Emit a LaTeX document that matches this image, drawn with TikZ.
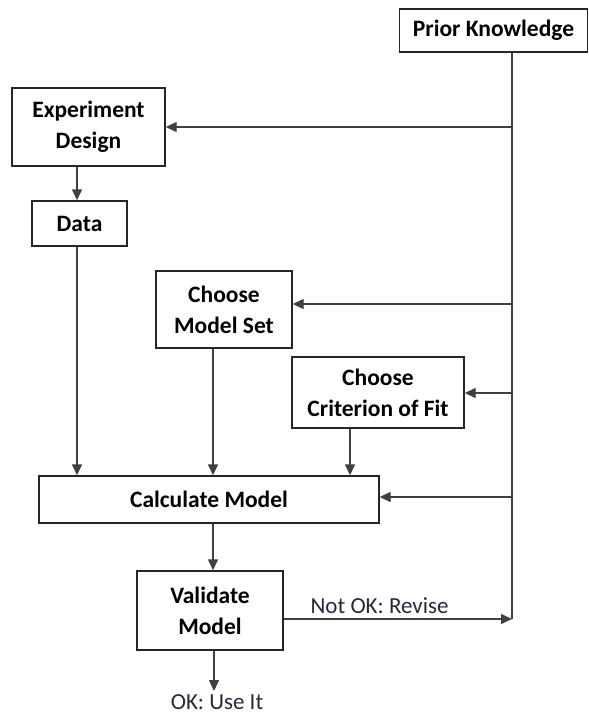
\documentclass[tikz,border=0pt]{standalone}
\usepackage{fontspec}
\setmainfont{Carlito}
\usetikzlibrary{arrows.meta}
\definecolor{lblc}{RGB}{40,40,60}
\begin{document}
\begin{tikzpicture}[x=1pt,y=-1pt,
  box/.style={draw=black!85,line width=1.4pt,inner sep=0pt,align=center,
    font=\fontsize{23.5}{31}\selectfont\bfseries},
  conn/.style={draw=black!75,line width=1.4pt},
  arr/.style={conn,-{Triangle[length=11pt,width=10pt]}},
  lbl/.style={font=\fontsize{23}{26}\selectfont,text=lblc}]
\useasboundingbox (0,0) rectangle (589,716);
\node[box,minimum width=188pt,minimum height=43pt] (pk) at (493.5,30.5) {Prior Knowledge};
\node[box,minimum width=153pt,minimum height=78pt] (ed) at (88.5,127) {Experiment\\Design};
\node[box,minimum width=95pt,minimum height=45pt] (data) at (79.5,223.5) {Data};
\node[box,minimum width=136pt,minimum height=77pt] (cms) at (224,309.5) {Choose\\Model Set};
\node[box,minimum width=172pt,minimum height=71pt] (ccf) at (378,392.5) {Choose\\Criterion of Fit};
\node[box,minimum width=340pt,minimum height=47pt] (calc) at (209,499.5) {Calculate Model};
\node[box,minimum width=146pt,minimum height=79pt] (val) at (210,610.5) {Validate\\Model};
% named coordinates
\coordinate (xd) at (77,0);
\coordinate (xm) at (213,0);
\coordinate (xc) at (350,0);
\coordinate (s1) at (512,127);
\coordinate (s2) at (512,304);
\coordinate (s3) at (512,393);
\coordinate (s4) at (512,497);
\coordinate (s5) at (512,619);
\coordinate (okend) at (214,691);
% spine
\draw[conn] (pk.south -| s1) -- (s5);
\draw[arr] (s1) -- (s1 -| ed.east);
\draw[arr] (s2) -- (s2 -| cms.east);
\draw[arr] (s3) -- (s3 -| ccf.east);
\draw[arr] (s4) -- (s4 -| calc.east);
% flow
\draw[arr] (ed.south -| xd) -- (data.north -| xd);
\draw[arr] (data.south -| xd) -- (calc.north -| xd);
\draw[arr] (cms.south -| xm) -- (calc.north -| xm);
\draw[arr] (ccf.south -| xc) -- (calc.north -| xc);
\draw[arr] (calc.south -| xm) -- (val.north -| xm);
\draw[arr] (val.east |- s5) -- node[lbl,above=1pt,pos=0.42] (nok) {Not OK: Revise} (s5);
\draw[arr] (val.south -| okend) -- (okend);
\node[lbl,anchor=north] (ok) at (217,691) {OK: Use It};
\end{tikzpicture}
\end{document}
